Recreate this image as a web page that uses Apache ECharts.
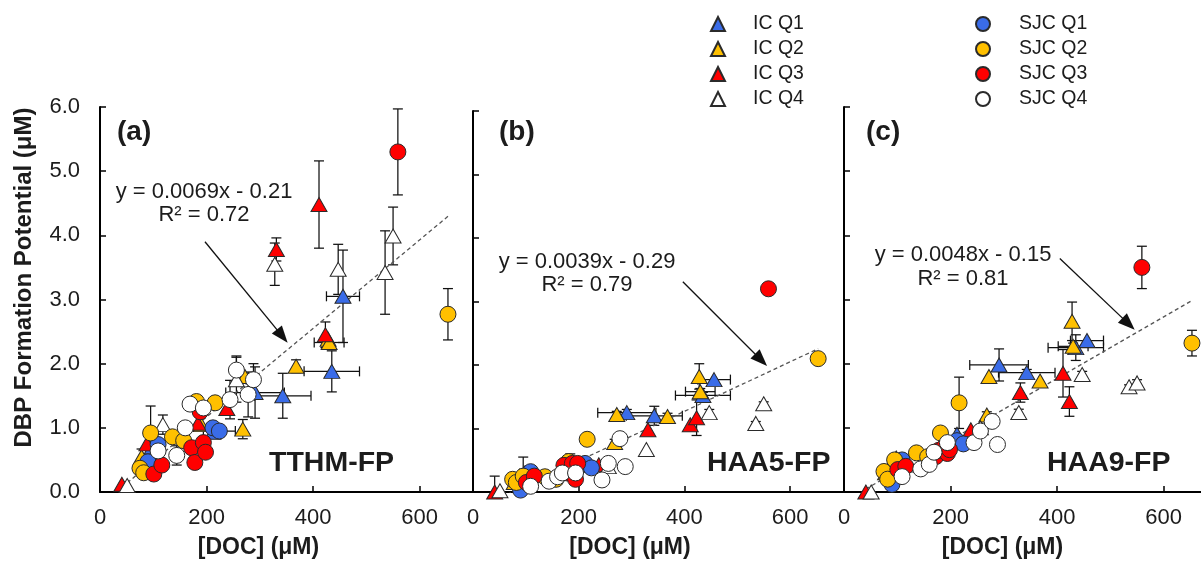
<!DOCTYPE html>
<html>
<head>
<meta charset="utf-8">
<script src="https://cdn.jsdelivr.net/npm/echarts@6/dist/echarts.min.js"></script>
<style>
  html, body { margin: 0; padding: 0; background: #ffffff; }
  #chart { width: 1201px; height: 567px; }
</style>
</head>
<body>
<div id="chart"></div>
<script>
// Row layout: [DOC, DOC sd, TTHM-FP, sd, HAA5-FP, sd, HAA9-FP, sd]  (all in µM)
const icQ1 = [
  [98, 0, 0.70, 0, 0.30, 0, 0.53, 0],
  [212, 0, 0.93, 0, 0.42, 0, 0.90, 0],
  [291, 55, 1.55, 0.40, 1.25, 0.05, 1.98, 0.25],
  [343, 53, 1.50, 0.35, 1.20, 0.15, 1.86, 0.05],
  [435, 52, 1.88, 0.32, 1.52, 0.05, 2.25, 0.20],
  [456, 31, 3.05, 0.72, 1.77, 0, 2.36, 0]
];
const icQ2 = [
  [78, 0, 0.55, 0.12, 0.15, 0, 0.30, 0.10],
  [190, 0, 1.05, 0, 0.45, 0, 0.75, 0],
  [268, 0, 0.98, 0.15, 0.78, 0.05, 1.20, 0.05],
  [272, 0, 1.80, 0, 1.22, 0.05, 1.80, 0],
  [368, 0, 1.96, 0.10, 1.19, 0.05, 1.73, 0],
  [428, 0, 2.38, 0, 1.82, 0.20, 2.66, 0.30],
  [430, 28, 2.33, 0, 1.58, 0.05, 2.27, 0.05]
];
const icQ3 = [
  [41, 0, 0.12, 0, 0.00, 0.25, 0.00, 0],
  [88, 0, 0.75, 0, 0.25, 0, 0.40, 0],
  [184, 0, 1.07, 0, 0.45, 0.15, 0.62, 0],
  [238, 0, 1.30, 0, 0.43, 0, 0.97, 0],
  [331, 0, 3.78, 0.18, 0.98, 0, 1.55, 0.15],
  [411, 0, 4.48, 0.68, 1.06, 0, 1.85, 0.37],
  [423, 0, 2.45, 0.20, 1.17, 0.28, 1.41, 0.23]
];
const icQ4 = [
  [51, 0, 0.10, 0, 0.02, 0, 0.00, 0],
  [118, 0, 1.05, 0.15, 0.30, 0, 0.42, 0],
  [256, 0, 1.75, 0.35, 0.40, 0, 1.00, 0],
  [328, 0, 3.55, 0.33, 0.67, 0, 1.24, 0.05],
  [447, 0, 3.47, 0.39, 1.25, 0.05, 1.83, 0.05],
  [535, 0, 3.42, 0.65, 1.08, 0.03, 1.64, 0.03],
  [550, 0, 3.99, 0.45, 1.39, 0.03, 1.70, 0.05]
];
const sjcQ1 = [
  [90, 0, 0.47, 0, 0.03, 0, 0.12, 0],
  [109, 0, 0.74, 0, 0.32, 0, 0.50, 0],
  [212, 0, 1.00, 0, 0.45, 0, 0.80, 0],
  [224, 30, 0.95, 0, 0.38, 0, 0.75, 0]
];
const sjcQ2 = [
  [75, 0, 0.37, 0, 0.20, 0, 0.32, 0],
  [82, 0, 0.30, 0, 0.15, 0, 0.20, 0],
  [95, 0, 0.92, 0.42, 0.25, 0.30, 0.50, 0],
  [136, 0, 0.86, 0, 0.24, 0, 0.61, 0],
  [157, 0, 0.80, 0, 0.20, 0, 0.55, 0],
  [181, 0, 1.41, 0, 0.48, 0, 0.92, 0],
  [216, 0, 1.39, 0, 0.83, 0, 1.39, 0.40],
  [653, 0, 2.77, 0.40, 2.10, 0, 2.32, 0.20]
];
const sjcQ3 = [
  [101, 0, 0.28, 0, 0.15, 0, 0.35, 0],
  [116, 0, 0.42, 0, 0.25, 0, 0.40, 0],
  [172, 0, 0.69, 0, 0.42, 0, 0.55, 0],
  [178, 0, 0.46, 0, 0.30, 0, 0.65, 0],
  [188, 0, 1.25, 0, 0.45, 0, 0.70, 0],
  [194, 0, 0.77, 0, 0.20, 0, 0.60, 0],
  [198, 0, 0.62, 0, 0.45, 0, 0.66, 0],
  [559, 0, 5.30, 0.67, 3.20, 0, 3.50, 0.33]
];
const sjcQ4 = [
  [109, 0, 0.64, 0, 0.09, 0, 0.24, 0],
  [144, 0, 0.57, 0.15, 0.17, 0, 0.36, 0],
  [160, 0, 1.00, 0, 0.24, 0, 0.43, 0],
  [169, 0, 1.37, 0, 0.30, 0, 0.62, 0],
  [194, 0, 1.31, 0, 0.30, 0, 0.77, 0],
  [244, 0, 1.44, 0.30, 0.19, 0, 0.77, 0],
  [256, 0, 1.90, 0.22, 0.45, 0, 0.95, 0],
  [278, 0, 1.52, 0.35, 0.84, 0, 1.10, 0],
  [288, 0, 1.75, 0.25, 0.40, 0, 0.74, 0]
];

// Panels and linear fits
const panelNames = ['TTHM-FP', 'HAA5-FP', 'HAA9-FP'];
const panelTags = ['(a)', '(b)', '(c)'];
const fitSlopes = [0.0069, 0.0039, 0.0048];
const fitIntercepts = [-0.21, -0.29, -0.15];
const fitR2 = [0.72, 0.79, 0.81];
// Callout arrows pointing at each fit line, in data units [DOC, FP]
const arrowFrom = [[197, 3.90], [397, 3.31], [405, 3.64]];
const arrowTo = [[342, 2.43], [545, 2.08], [534, 2.62]];

// Axis setup
const xMin = 0, xMax = 700, xStep = 200;
const yMin = 0, yMax = 6, yStep = 1;
const xTitle = '[DOC] (\u03bcM)';
const yTitle = 'DBP Formation Potential (\u03bcM)';

const FONT = '"Liberation Sans", Arial, Helvetica, sans-serif';
const INK = '#1c1c1c';
const BLUE = '#3A6CE8', GOLD = '#FFC000', RED = '#FF0000', WHITE = '#FFFFFF';

const groups = [
  { name: 'IC Q1', rows: icQ1, symbol: 'triangle', color: BLUE },
  { name: 'IC Q2', rows: icQ2, symbol: 'triangle', color: GOLD },
  { name: 'IC Q3', rows: icQ3, symbol: 'triangle', color: RED },
  { name: 'IC Q4', rows: icQ4, symbol: 'triangle', color: WHITE },
  { name: 'SJC Q1', rows: sjcQ1, symbol: 'circle', color: BLUE },
  { name: 'SJC Q2', rows: sjcQ2, symbol: 'circle', color: GOLD },
  { name: 'SJC Q3', rows: sjcQ3, symbol: 'circle', color: RED },
  { name: 'SJC Q4', rows: sjcQ4, symbol: 'circle', color: WHITE }
];

const gridBoxes = [
  { left: 100, top: 107, width: 373, height: 385 },
  { left: 473, top: 111, width: 370, height: 381 },
  { left: 844, top: 107, width: 373, height: 385 }
];
const eqPos = [[204, 192, 215], [587, 262, 285], [963, 255, 279]];
const tagPos = [[117, 132], [499, 132], [866, 132]];
const namePos = [[269, 463], [707, 463], [1047, 463]];

const allDoc = groups.flatMap(g => g.rows.map(r => r[0]));
const docLo = Math.min(...allDoc), docHi = Math.max(...allDoc);

function errorBars(params, api) {
  const x = api.value(0), xe = api.value(1), y = api.value(2), ye = api.value(3);
  const cap = 5;
  const style = { stroke: '#111', lineWidth: 1.25 };
  const kids = [];
  const seg = (x1, y1, x2, y2) => kids.push({ type: 'line', shape: { x1, y1, x2, y2 }, style });
  if (ye > 0) {
    const a = api.coord([x, y + ye]), b = api.coord([x, y - ye]);
    seg(a[0], a[1], b[0], b[1]);
    seg(a[0] - cap, a[1], a[0] + cap, a[1]);
    seg(b[0] - cap, b[1], b[0] + cap, b[1]);
  }
  if (xe > 0) {
    const a = api.coord([x - xe, y]), b = api.coord([x + xe, y]);
    seg(a[0], a[1], b[0], b[1]);
    seg(a[0], a[1] - cap, a[0], a[1] + cap);
    seg(b[0], b[1] - cap, b[0], b[1] + cap);
  }
  return { type: 'group', children: kids };
}

const grids = [], xAxes = [], yAxes = [], series = [], graphics = [];

panelNames.forEach((pname, p) => {
  grids.push(Object.assign({ outerBoundsMode: 'none', containLabel: false }, gridBoxes[p]));
  xAxes.push({
    type: 'value', gridIndex: p, min: xMin, max: xMax, interval: xStep,
    name: xTitle, nameLocation: 'middle', nameGap: 44, nameMoveOverlap: false,
    nameTextStyle: { fontFamily: FONT, fontSize: 23, fontWeight: 'bold', color: INK, padding: [0, 56, 0, 0] },
    axisLine: { show: true, onZero: false, lineStyle: { color: '#000', width: 2 } },
    axisTick: { show: true, inside: true, length: 6, lineStyle: { color: '#000', width: 1.5 } },
    axisLabel: { show: true, margin: 15, showMaxLabel: false, fontFamily: FONT, fontSize: 22, color: INK },
    splitLine: { show: false }
  });
  yAxes.push({
    type: 'value', gridIndex: p, min: yMin, max: yMax, interval: yStep,
    name: p === 0 ? yTitle : '', nameLocation: 'middle', nameGap: 64, nameMoveOverlap: false,
    nameTextStyle: { fontFamily: FONT, fontSize: 24, fontWeight: 'bold', color: INK, padding: [0, 0, 0, 44] },
    axisLine: { show: true, onZero: false, lineStyle: { color: '#000', width: 2 } },
    axisTick: { show: true, inside: true, length: 6, lineStyle: { color: '#000', width: 1.5 } },
    axisLabel: { show: p === 0, margin: 20, fontFamily: FONT, fontSize: 22, color: INK, formatter: v => v.toFixed(1) },
    splitLine: { show: false }
  });

  const yc = 2 + 2 * p, ec = 3 + 2 * p;

  // error bars (drawn beneath markers)
  const errData = [];
  groups.forEach(g => g.rows.forEach(r => {
    if (r[1] > 0 || r[ec] > 0) errData.push([r[0], r[1], r[yc], r[ec]]);
  }));
  series.push({
    type: 'custom', xAxisIndex: p, yAxisIndex: p, data: errData, renderItem: errorBars,
    encode: { x: 0, y: 2 }, z: 1, silent: true, clip: true
  });

  // fitted line with its callout arrow
  const s = fitSlopes[p], b = fitIntercepts[p];
  series.push({
    type: 'line', xAxisIndex: p, yAxisIndex: p, z: 2, silent: true,
    data: [[docLo, s * docLo + b], [docHi, s * docHi + b]],
    showSymbol: false, symbol: 'none',
    lineStyle: { color: '#555555', width: 1.3, type: [4, 3] },
    markLine: {
      silent: true, symbol: ['none', 'triangle'], symbolSize: [13, 17],
      label: { show: false },
      lineStyle: { color: '#111', width: 1.3, type: 'solid' },
      data: [[{ coord: arrowFrom[p] }, { coord: arrowTo[p] }]],
      animation: false
    }
  });

  // markers
  groups.forEach(g => {
    series.push({
      type: 'scatter', name: g.name, xAxisIndex: p, yAxisIndex: p, z: 3,
      symbol: g.symbol, symbolSize: g.symbol === 'triangle' ? [16, 14] : 16,
      itemStyle: { color: g.color, borderColor: '#2a2a2a', borderWidth: 1, opacity: 1 },
      emphasis: { disabled: true },
      data: g.rows.map(r => [r[0], r[yc]])
    });
  });

  // annotations
  const sign = b < 0 ? '- ' : '+ ';
  graphics.push(
    { type: 'text', x: eqPos[p][0], y: eqPos[p][1], style: { text: 'y = ' + s.toFixed(4) + 'x ' + sign + Math.abs(b).toFixed(2), font: '22px ' + FONT, fill: INK, align: 'center', verticalAlign: 'middle' } },
    { type: 'text', x: eqPos[p][0], y: eqPos[p][2], style: { text: 'R\u00b2 = ' + fitR2[p].toFixed(2), font: '22px ' + FONT, fill: INK, align: 'center', verticalAlign: 'middle' } },
    { type: 'text', x: tagPos[p][0], y: tagPos[p][1], style: { text: panelTags[p], font: 'bold 28px ' + FONT, fill: INK, align: 'left', verticalAlign: 'middle' } },
    { type: 'text', x: namePos[p][0], y: namePos[p][1], style: { text: pname, font: 'bold 28.5px ' + FONT, fill: INK, align: 'left', verticalAlign: 'middle' } }
  );
});

const legendBase = {
  orient: 'vertical', top: 14, padding: 0, itemWidth: 14, itemHeight: 14, itemGap: 5,
  selectedMode: false,
  textStyle: { fontFamily: FONT, fontSize: 19.5, color: INK, lineHeight: 20 }
};

const chart = echarts.init(document.getElementById('chart'), null, { renderer: 'canvas' });
chart.setOption({
  animation: false,
  backgroundColor: '#ffffff',
  grid: grids,
  xAxis: xAxes,
  yAxis: yAxes,
  legend: [
    Object.assign({}, legendBase, { left: 710, data: groups.slice(0, 4).map(g => g.name),
      textStyle: Object.assign({}, legendBase.textStyle, { padding: [0, 0, 0, 23] }) }),
    Object.assign({}, legendBase, { left: 975, data: groups.slice(4).map(g => g.name),
      textStyle: Object.assign({}, legendBase.textStyle, { padding: [0, 0, 0, 24] }) })
  ],
  graphic: graphics,
  series: series
});
</script>
</body>
</html>
